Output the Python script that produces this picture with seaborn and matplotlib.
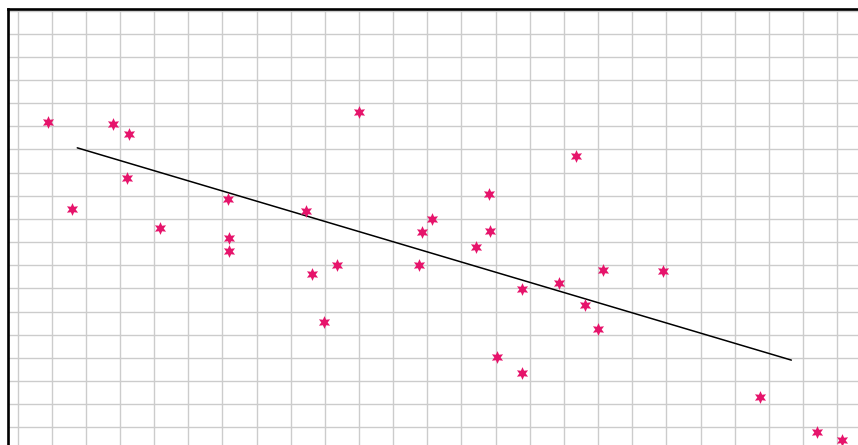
import matplotlib
matplotlib.use("Agg")
import matplotlib.pyplot as plt
import seaborn as sns
import numpy as np
import pandas as pd

# Observed points (grid units)
x_vals = [0.90, 2.80, 3.27, 3.21, 1.60, 4.18, 6.17, 6.20, 6.20, 10.01,
          8.45, 8.63, 9.36, 8.98, 11.76, 11.85, 12.14, 13.43, 13.81, 13.84,
          16.36, 14.05, 14.78, 14.78, 15.86, 16.62, 17.15, 17.01, 18.91, 21.75,
          23.42, 24.15]
y_vals = [13.18, 13.10, 12.67, 10.76, 9.44, 8.60, 9.85, 8.17, 7.61, 13.61,
          9.32, 6.62, 7.01, 4.54, 7.01, 8.43, 8.99, 7.78, 10.07, 8.48,
          11.71, 3.03, 5.97, 2.34, 6.23, 5.28, 6.79, 4.24, 6.75, 1.30,
          -0.21, -0.55]

# Trend line endpoints
trend_x = [1.75, 22.66]
trend_y = [12.07, 2.90]

df = pd.DataFrame({"x": x_vals, "y": y_vals})
trend = pd.DataFrame({"x": trend_x, "y": trend_y})

sns.set_style("white")
W, H = 858, 445
fig = plt.figure(figsize=(W / 100, H / 100), dpi=100)

x_min, x_max = -0.29, 26.0
y_min, y_max = -1.0, 18.08
px_x = 34.15
px_y = 23.15
left_px = 7.6
top_px = 8.7
ax_w = (x_max - x_min) * px_x
ax_h = (y_max - y_min) * px_y
ax = fig.add_axes([left_px / W, (H - top_px - ax_h) / H, ax_w / W, ax_h / H])

ax.set_xlim(x_min, x_max)
ax.set_ylim(y_min, y_max)
ax.set_xticks(np.arange(0, 26, 1))
ax.set_yticks(np.arange(0, 19, 1))
ax.grid(True, color="#cccccc", linewidth=1.0)
ax.set_axisbelow(True)
ax.tick_params(length=0, labelbottom=False, labelleft=False)
for side in ["left", "top"]:
    ax.spines[side].set_visible(True)
    ax.spines[side].set_color("black")
    ax.spines[side].set_linewidth(1.9)
for side in ["right", "bottom"]:
    ax.spines[side].set_visible(False)

sns.lineplot(data=trend, x="x", y="y", ax=ax, color="black", linewidth=1.1)
sns.scatterplot(data=df, x="x", y="y", ax=ax, marker=(6, 1, 0), s=85,
                color="#e6146b", linewidth=0, zorder=3)
ax.set_xlabel("")
ax.set_ylabel("")

fig.savefig("out.png", dpi=100)
